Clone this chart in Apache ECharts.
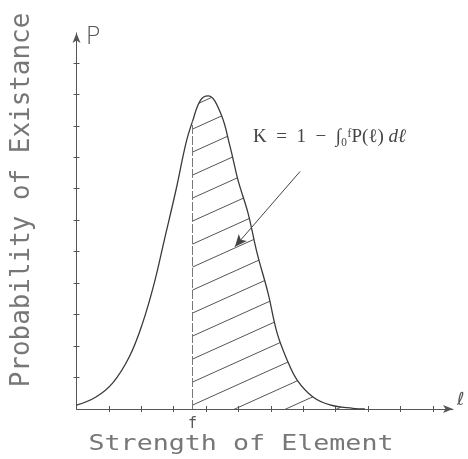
<!DOCTYPE html>
<html><head><meta charset="utf-8">
<script src="https://cdn.jsdelivr.net/npm/echarts@6/dist/echarts.min.js"></script>
<style>html,body{margin:0;padding:0;background:#fff}#c{width:468px;height:459px}</style>
</head><body><div id="c"></div>
<script>
// ---- data ----
const curveX = [0, 0.6, 1.12, 1.63, 2.04, 2.4, 2.71, 3.07, 3.38, 3.58, 3.82, 4.06, 4.44, 4.74, 4.98, 5.29, 5.57, 5.91, 6.19, 6.5, 6.81, 7.3, 7.82, 8.53, 8.9];
const curveP = [0.12, 0.38, 0.83, 1.66, 2.73, 4.0, 5.37, 6.96, 8.46, 9.14, 9.8, 9.95, 9.42, 8.34, 7.29, 6.24, 4.97, 3.69, 2.42, 1.56, 0.92, 0.38, 0.13, 0.02, 0];
const fPos = 3.58;
const xTicks = [1, 2, 3, 4, 5, 6, 7, 8, 9, 10, 11];
const yTicks = [1, 2, 3, 4, 5, 6, 7, 8, 9, 10, 11];
const arrowFrom = [6.9, 7.55];
const arrowTo = [4.89, 5.16];
const xName = 'ℓ';
const yName = 'P';
const fLabel = 'f';
const xTitle = 'Strength of Element';
const yTitle = 'Probability of Existance';
const formulaMain = 'K  =  1  −  ∫₀ᶠP(ℓ) ';
const formulaTail = 'dℓ';

// ---- build ----
const curve = curveX.map((x, i) => [x, curveP[i]]);
const hatch = curve.filter(p => p[0] >= fPos);
const fVal = curveP[curveX.indexOf(fPos)];

// hatch pattern tile
const tile = document.createElement('canvas');
tile.width = 51; tile.height = 23;
const tc = tile.getContext('2d');
tc.strokeStyle = '#555'; tc.lineWidth = 1;
const c0 = 8.9;
for (let k = -1; k <= 2; k++) {
  tc.beginPath();
  tc.moveTo(0, c0 + 23 * k);
  tc.lineTo(51, c0 + 23 * k - 23);
  tc.stroke();
}

const axisColor = '#555';
const chart = echarts.init(document.getElementById('c'), null, {renderer: 'canvas'});
const option = {
  animation: false,
  backgroundColor: '#fff',
  grid: {left: 76.5, right: 15, top: 33, bottom: 50, outerBoundsMode: 'none'},
  xAxis: [{
    type: 'value', min: 0, max: 11.62, interval: 1,
    axisLine: {show: true, onZero: false, symbol: ['none', 'arrow'], symbolSize: [6, 10], lineStyle: {color: axisColor, width: 1}},
    axisTick: {show: true, length: 3, customValues: xTicks, lineStyle: {color: axisColor}},
    axisLabel: {show: false}, splitLine: {show: false},
    name: xName, nameLocation: 'end', nameGap: 4,
    nameTextStyle: {fontFamily: 'DejaVu Sans', fontSize: 18, color: '#555', align: 'left', verticalAlign: 'bottom', padding: [0, 0, 0, 0]}
  }, {
    type: 'value', min: 0, max: 11.62, interval: 1, position: 'bottom',
    axisLine: {show: false},
    axisTick: {show: true, inside: true, length: 3, customValues: xTicks, lineStyle: {color: axisColor}},
    axisLabel: {show: false}, splitLine: {show: false}
  }],
  yAxis: [{
    type: 'value', min: 0, max: 11.95, interval: 1,
    axisLine: {show: true, onZero: false, symbol: ['none', 'arrow'], symbolSize: [6, 10], lineStyle: {color: axisColor, width: 1}},
    axisTick: {show: true, length: 3, customValues: yTicks, lineStyle: {color: axisColor}},
    axisLabel: {show: false}, splitLine: {show: false},
    name: yName, nameLocation: 'end', nameGap: -4,
    nameTextStyle: {fontFamily: 'DejaVu Sans', fontWeight: 200, fontSize: 25, color: '#555', align: 'left', verticalAlign: 'middle', padding: [0, 0, 0, 9]}
  }, {
    type: 'value', min: 0, max: 11.95, interval: 1, position: 'left',
    axisLine: {show: false},
    axisTick: {show: true, inside: true, length: 3, customValues: yTicks, lineStyle: {color: axisColor}},
    axisLabel: {show: false}, splitLine: {show: false}
  }],
  series: [{
    type: 'line', data: hatch, smooth: 0.4, symbol: 'none', z: 1,
    lineStyle: {width: 0, opacity: 0},
    areaStyle: {color: {image: tile, repeat: 'repeat'}, opacity: 1, origin: 'start'},
    markLine: {
      silent: true, symbol: ['none', 'arrow'], symbolSize: [8, 12],
      lineStyle: {color: '#444', width: 1, type: 'solid'},
      label: {show: false},
      data: [[{coord: arrowFrom}, {coord: arrowTo}]]
    }
  }, {
    type: 'line', data: curve, smooth: 0.4, symbol: 'none', z: 3,
    lineStyle: {color: '#3a3a3a', width: 1.3},
    markLine: {
      silent: true, symbol: ['none', 'none'],
      lineStyle: {color: '#777', width: 1, type: [9, 2]},
      label: {show: true, position: 'start', formatter: fLabel, fontFamily: 'DejaVu Sans Mono', fontSize: 15, color: '#555', distance: 8},
      data: [[{coord: [fPos, 0]}, {coord: [fPos, fVal]}]]
    }
  }],
  graphic: [{
    type: 'text', x: 22, y: 200, rotation: Math.PI / 2, scaleX: 0.96,
    style: {text: yTitle, fontFamily: 'DejaVu Sans Mono', fontSize: 27, fill: '#777',
            align: 'center', verticalAlign: 'middle', textAlign: 'center', textVerticalAlign: 'middle'}
  }, {
    type: 'text', x: 241, y: 445, scaleX: 1.27,
    style: {text: xTitle, fontFamily: 'DejaVu Sans Mono', fontSize: 21, fill: '#777',
            align: 'center', verticalAlign: 'middle', textAlign: 'center', textVerticalAlign: 'middle'}
  }, {
    type: 'text', x: 253, y: 137,
    style: {
      text: '{n|' + formulaMain + '}{i|' + formulaTail + '}',
      rich: {
        n: {fontFamily: 'Liberation Serif', fontSize: 19, fill: '#444'},
        i: {fontFamily: 'Liberation Serif', fontStyle: 'italic', fontSize: 19, fill: '#444'}
      },
      align: 'left', verticalAlign: 'middle', textAlign: 'left', textVerticalAlign: 'middle'
    }
  }]
};
chart.setOption(option);
</script>
</body></html>
